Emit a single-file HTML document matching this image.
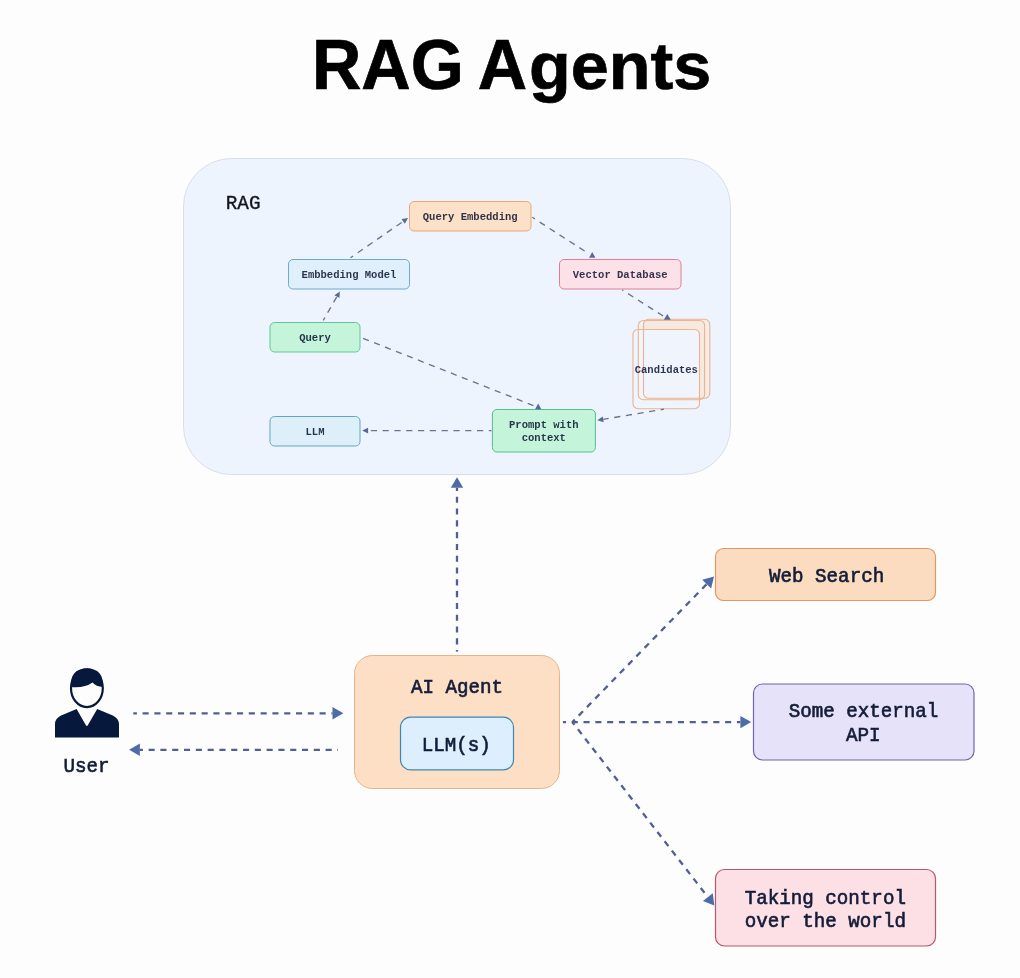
<!DOCTYPE html>
<html>
<head>
<meta charset="utf-8">
<title>RAG Agents</title>
<style>
  html, body { margin: 0; padding: 0; background: #fdfdfd; }
  body { width: 1020px; height: 978px; overflow: hidden; position: relative; font-family: "Liberation Mono", monospace; }
  svg { position: absolute; left: 0; top: 0; display: block; will-change: transform; }
  .title { font-family: "Liberation Sans", sans-serif; font-weight: 700; font-size: 67px; fill: #000; stroke: #000; stroke-width: 0.7px; }
  .mono { font-family: "Liberation Mono", monospace; fill: #141d38; }
  .sm { font-size: 10.55px; font-weight: 700; fill: #0c1430; fill-opacity: 0.86; }
  .lg { font-size: 19.2px; stroke: #141d38; stroke-width: 0.6px; }
  .rag { font-size: 19.3px; stroke: #14161f; stroke-width: 0.35px; fill: #14161f; }
  .arr { stroke: #6a7390; fill: none; stroke-width: 1.35; stroke-dasharray: 6.2 5.6; }
  .arrb { stroke: #515f94; fill: none; stroke-width: 2.3; stroke-dasharray: 6.1 5.7; }
</style>
</head>
<body>
<svg width="1020" height="978" viewBox="0 0 1020 978">


<text class="title" transform="translate(312,89.2) scale(1.02,1.04)">RAG</text>
<text class="title" transform="translate(477.8,89.2) scale(1.02,1.04)">A</text>
<text class="title" transform="translate(529,89.2) scale(1.02,0.995)">gents</text>
<rect x="183.5" y="158.5" width="547" height="316" rx="48" fill="#eef4fe" stroke="#d9dde7" stroke-width="1" />
<text class="mono rag" transform="translate(225.8,209.3) scale(1.0,1.07)" text-anchor="start">RAG</text>
<rect x="409.5" y="201.5" width="121.5" height="29.5" rx="4.5" fill="#fde0c8" stroke="#eba776" stroke-width="1" />
<text class="mono sm" transform="translate(470.2,220) scale(1.0,1.04)" text-anchor="middle">Query Embedding</text>
<rect x="288.5" y="259.5" width="121" height="29.5" rx="4.5" fill="#e0effc" stroke="#6ea9d0" stroke-width="1" />
<text class="mono sm" transform="translate(349,278) scale(1.0,1.04)" text-anchor="middle">Embbeding Model</text>
<rect x="559.5" y="259.5" width="121.5" height="29.5" rx="4.5" fill="#fde1e8" stroke="#e07d96" stroke-width="1" />
<text class="mono sm" transform="translate(620.2,278) scale(1.0,1.04)" text-anchor="middle">Vector Database</text>
<rect x="270" y="322.5" width="90" height="29.5" rx="4.5" fill="#c4f5da" stroke="#62c596" stroke-width="1" />
<text class="mono sm" transform="translate(315,341.3) scale(1.0,1.04)" text-anchor="middle">Query</text>
<rect x="270" y="416.5" width="90" height="29.5" rx="4.5" fill="#ddf0fa" stroke="#62a6c2" stroke-width="1" />
<text class="mono sm" transform="translate(315,435.3) scale(1.0,1.04)" text-anchor="middle">LLM</text>
<rect x="492.4" y="409.5" width="103" height="42.5" rx="4.5" fill="#c4f5da" stroke="#52bf8c" stroke-width="1" />
<text class="mono sm" transform="translate(543.8,428) scale(1.0,1.04)" text-anchor="middle">Prompt with</text>
<text class="mono sm" transform="translate(543.8,441.3) scale(1.0,1.04)" text-anchor="middle">context</text>
<rect x="643.5" y="319.3" width="66.3" height="79" rx="5" fill="#fbe4d2" stroke="none" stroke-width="0" fill-opacity="0.5"/>
<rect x="638.3" y="320.5" width="66.3" height="79.2" rx="5" fill="#fbe4d2" stroke="none" stroke-width="0" fill-opacity="0.35"/>
<rect x="633" y="329.5" width="66.5" height="79.2" rx="5" fill="#eff4fe" stroke="none" stroke-width="0" fill-opacity="0.92"/>
<rect x="643.5" y="319.3" width="66.3" height="79" rx="5" fill="none" stroke="#eab392" stroke-width="1.1" />
<rect x="638.3" y="320.5" width="66.3" height="79.2" rx="5" fill="none" stroke="#eab392" stroke-width="1.1" />
<rect x="633" y="329.5" width="66.5" height="79.2" rx="5" fill="none" stroke="#eab392" stroke-width="1.1" />
<text class="mono sm" transform="translate(666.3,373) scale(1.0,1.04)" text-anchor="middle">Candidates</text>
<path class="arr" d="M323.30,320.30 L336.91,296.60" stroke-dashoffset="3"/><polygon points="339.90,291.40 339.43,298.05 334.40,295.16" fill="#586a96"/>
<path class="arr" d="M350.50,257.80 L403.16,221.41" stroke-dashoffset="3"/><polygon points="408.10,218.00 404.81,223.80 401.52,219.02" fill="#586a96"/>
<path class="arr" d="M532.30,217.30 L588.00,253.20" stroke-dashoffset="3"/><polygon points="592.20,252.00 589.00,257.80 595.40,257.80" fill="#586a96"/>
<path class="arr" d="M622.30,290.00 L663.50,316.20" stroke-dashoffset="5"/><polygon points="667.30,314.10 663.80,319.70 670.80,319.70" fill="#586a96"/>
<path class="arr" d="M663.90,409.20 L603.22,419.31" stroke-dashoffset="3"/><polygon points="597.30,420.30 602.74,416.45 603.70,422.17" fill="#586a96"/>
<path class="arr" d="M361.20,337.60 L534.50,406.00" stroke-dashoffset="9.8"/><polygon points="538.20,403.60 535.10,409.20 541.30,409.20" fill="#586a96"/>
<path class="arr" d="M491.50,430.60 L368.10,430.60" stroke-dashoffset="3.5"/><polygon points="362.10,430.60 368.10,427.70 368.10,433.50" fill="#586a96"/>
<rect x="354.5" y="655.5" width="205" height="133" rx="18" fill="#fddfc6" stroke="#ecb287" stroke-width="1" />
<text class="mono lg" transform="translate(457,693.4) scale(1.0,1.1)" text-anchor="middle">AI Agent</text>
<rect x="400.5" y="717.2" width="113" height="52.6" rx="10" fill="#ddeefc" stroke="#3f86b8" stroke-width="1.2" />
<text class="mono lg" transform="translate(456.3,750.7) scale(1.0,1.1)" text-anchor="middle">LLM(s)</text>
<rect x="715.5" y="548.5" width="220" height="52" rx="8" fill="#fcdcc0" stroke="#dc9a64" stroke-width="1.2" />
<text class="mono lg" transform="translate(826.6,582) scale(1.0,1.1)" text-anchor="middle">Web Search</text>
<rect x="753.5" y="684" width="220.5" height="76" rx="9" fill="#e5e2fa" stroke="#6d64b4" stroke-width="1.2" />
<text class="mono lg" transform="translate(863.5,717.4) scale(1.0,1.1)" text-anchor="middle">Some external</text>
<text class="mono lg" transform="translate(863.3,740.9) scale(1.0,1.1)" text-anchor="middle">API</text>
<rect x="715.5" y="869.5" width="220" height="76.5" rx="9" fill="#fde0e6" stroke="#b9566f" stroke-width="1.2" />
<text class="mono lg" transform="translate(825.3,903.5) scale(1.0,1.1)" text-anchor="middle">Taking control</text>
<text class="mono lg" transform="translate(825.3,927) scale(1.0,1.1)" text-anchor="middle">over the world</text>
<path class="arrb" d="M457.00,651.50 L457.00,487.80" stroke-dashoffset="4.7"/><polygon points="457.00,477.30 463.20,487.80 450.80,487.80" fill="#4d6ba6"/>
<path class="arrb" d="M133.30,713.30 L332.50,713.30" stroke-dashoffset="2.5"/><polygon points="343.30,713.30 332.50,719.50 332.50,707.10" fill="#4d6ba6"/>
<path class="arrb" d="M338.00,749.80 L139.90,749.80" stroke-dashoffset="5.5"/><polygon points="129.10,749.80 139.90,743.60 139.90,756.00" fill="#4d6ba6"/>
<path class="arrb" d="M562.90,722.10 L740.40,722.10" stroke-dashoffset="3.0"/><polygon points="751.20,722.10 740.40,728.30 740.40,715.90" fill="#4d6ba6"/>
<path class="arrb" d="M572.40,722.10 L706.68,584.12" stroke-dashoffset="2.7" stroke-dasharray="6.1 5.85"/><polygon points="714.00,576.60 711.12,588.45 702.23,579.80" fill="#4d6ba6"/>
<path class="arrb" d="M572.40,722.10 L707.87,897.10" stroke-dashoffset="2.7" stroke-dasharray="6.0 5.65"/><polygon points="714.30,905.40 702.97,900.89 712.78,893.30" fill="#4d6ba6"/>
<g fill="#06183c">
    <path d="M55,737.4 L55,724.5 C55,719.5 57.6,717 62.3,714.9 L76.6,708.9 L85.9,725.2 Q86.85,726.6 87.8,725.2 L97.2,708.9 L111.6,714.9 C116.3,717 119,719.5 119,724.5 L119,737.4 Z"/>
    <ellipse cx="86.9" cy="688.2" rx="15.9" ry="18.9" fill="#fdfdfd" stroke="#06183c" stroke-width="2.2"/>
    <path d="M70.9,687 Q70,668.6 86.9,668.6 Q103.8,668.6 102.9,687 Q96,686.5 92.5,682.5 Q84,688.5 70.9,687 Z"/>
  </g>
<text class="mono lg" transform="translate(86.5,771.7) scale(1.0,1.1)" text-anchor="middle">User</text>
</svg>
</body>
</html>
